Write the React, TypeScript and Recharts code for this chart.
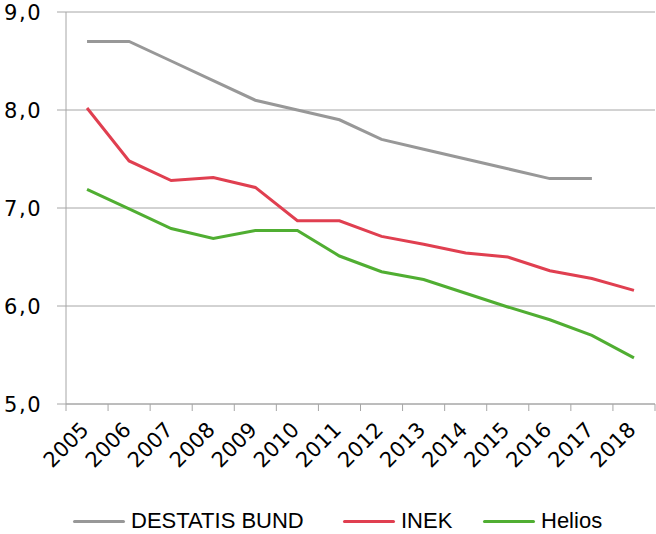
import { LineChart, Line, XAxis, YAxis, CartesianGrid, Legend } from "recharts";

const YEARS = [
  "2005", "2006", "2007", "2008", "2009", "2010", "2011",
  "2012", "2013", "2014", "2015", "2016", "2017", "2018",
];
const DESTATIS_BUND = [8.7, 8.7, 8.5, 8.3, 8.1, 8.0, 7.9, 7.7, 7.6, 7.5, 7.4, 7.3, 7.3, null];
const INEK = [8.02, 7.48, 7.28, 7.31, 7.21, 6.87, 6.87, 6.71, 6.63, 6.54, 6.5, 6.36, 6.28, 6.16];
const HELIOS = [7.19, 6.99, 6.79, 6.69, 6.77, 6.77, 6.51, 6.35, 6.27, 6.13, 5.99, 5.86, 5.7, 5.47];
const Y_TICKS = [5, 6, 7, 8, 9];

const SERIES = [
  { key: "destatis", name: "DESTATIS BUND", color: "#989898" },
  { key: "inek", name: "INEK", color: "#e03f50" },
  { key: "helios", name: "Helios", color: "#50ae32" },
];

const data = YEARS.map((year, i) => ({
  year,
  destatis: DESTATIS_BUND[i],
  inek: INEK[i],
  helios: HELIOS[i],
}));

const W = 656;
const H = 534;
const LEFT = 66;
const RIGHT = 1;
const BAND = (W - LEFT - RIGHT) / YEARS.length;
const GRID = "#a6a6a6";
const AXIS_FONT = "'DejaVu Sans', Verdana, sans-serif";
const LEGEND_X = [73, 343, 483];

function YearTick(props: any) {
  const { x, y, payload, index } = props;
  return (
    <g>
      <line x1={x - BAND / 2} x2={x - BAND / 2} y1={y} y2={y + 7} stroke={GRID} />
      {index === YEARS.length - 1 && (
        <line x1={x + BAND / 2} x2={x + BAND / 2} y1={y} y2={y + 7} stroke={GRID} />
      )}
      <text
        transform={`translate(${x + 3},${y + 27}) rotate(-45)`}
        textAnchor="end"
        fontSize={21}
        fontFamily={AXIS_FONT}
        fill="#000"
      >
        {payload.value}
      </text>
    </g>
  );
}

function ValueTick(props: any) {
  const { x, y, payload } = props;
  return (
    <text
      x={x}
      y={y}
      dy={7.5}
      textAnchor="end"
      fontSize={21}
      fontFamily={AXIS_FONT}
      letterSpacing={1.5}
      fill="#000"
    >
      {payload.value.toFixed(1).replace(".", ",")}
    </text>
  );
}

function LegendContent() {
  return (
    <div style={{ position: "relative", width: W - RIGHT, height: 40 }}>
      {SERIES.map((s, i) => (
        <div
          key={s.key}
          style={{
            position: "absolute",
            left: LEGEND_X[i],
            top: 16,
            height: 22,
            display: "flex",
            alignItems: "center",
            fontFamily: "'Liberation Sans', Arial, sans-serif",
            fontSize: 22,
            color: "#000",
            whiteSpace: "nowrap",
          }}
        >
          <span
            style={{
              display: "inline-block",
              width: 52,
              height: 3,
              borderRadius: 2,
              background: s.color,
              marginRight: 6,
            }}
          />
          {s.name}
        </div>
      ))}
    </div>
  );
}

export default function App() {
  return (
    <div style={{ width: W, height: H, background: "#fff", overflow: "hidden" }}>
      <style>{"html,body{margin:0;padding:0;overflow:hidden}"}</style>
      <LineChart width={W} height={H} data={data} margin={{ top: 12, right: RIGHT, left: 0, bottom: 0 }}>
        <CartesianGrid vertical={false} stroke={GRID} />
        <XAxis
          dataKey="year"
          scale="band"
          interval={0}
          height={90}
          axisLine={{ stroke: GRID }}
          tickLine={false}
          tickSize={0}
          tickMargin={0}
          tick={<YearTick />}
        />
        <YAxis
          width={LEFT}
          domain={[5, 9]}
          ticks={Y_TICKS}
          axisLine={{ stroke: GRID }}
          tickLine={{ stroke: GRID }}
          tickSize={9}
          tickMargin={15}
          tick={<ValueTick />}
        />
        <Legend verticalAlign="bottom" height={40} content={<LegendContent />} />
        {SERIES.map((s) => (
          <Line
            key={s.key}
            type="linear"
            dataKey={s.key}
            name={s.name}
            stroke={s.color}
            strokeWidth={3}
            dot={false}
            isAnimationActive={false}
          />
        ))}
      </LineChart>
    </div>
  );
}
